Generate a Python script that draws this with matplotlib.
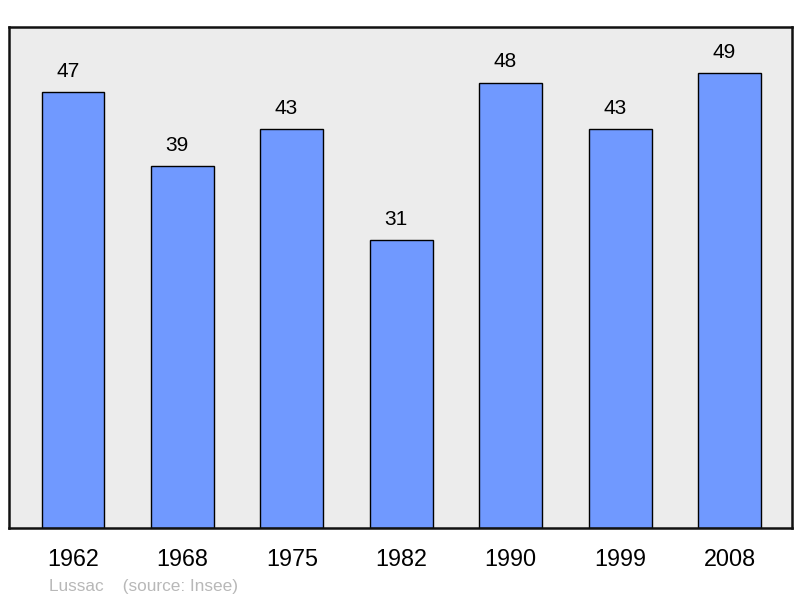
import numpy as np
import matplotlib.pyplot as plt

years = ['1962', '1968', '1975', '1982', '1990', '1999', '2008']
population = [47, 39, 43, 31, 48, 43, 49]

plt.rcParams['font.family'] = ['Liberation Sans', 'DejaVu Sans']


def main():
    fig = plt.figure(figsize=(8, 5.98), dpi=100)
    ax = fig.add_axes([9 / 800, 1 - 528 / 598, 783 / 800, 501 / 598])
    ax.set_facecolor('#ececec')

    x = np.arange(len(years))
    ax.bar(x, population, width=0.575, color='#7099ff', edgecolor='black', linewidth=1.0, zorder=2)

    # labels sit a little left of the bar centre in the original
    for xi, v in zip(x, population):
        ax.annotate(str(v), (xi, v), xytext=(-3.8, 11), textcoords='offset points',
                    ha='center', va='baseline', fontsize=15, color='black')

    ax.set_xlim(-0.585, 6.57)
    ax.set_ylim(0, 54)
    ax.set_xticks(x)
    ax.set_xticklabels(years, fontsize=16.8)
    ax.set_yticks([])
    ax.tick_params(axis='x', length=0, pad=14.5)
    for s in ax.spines.values():
        s.set_linewidth(1.8)
        s.set_color('#111111')

    fig.text(49 / 800, 1 - 591 / 598, 'Lussac    (source: Insee)', fontsize=12.4,
             color='#b8b8b8', ha='left', va='baseline')

    fig.savefig('out.png', dpi=100)


if __name__ == '__main__':
    main()
